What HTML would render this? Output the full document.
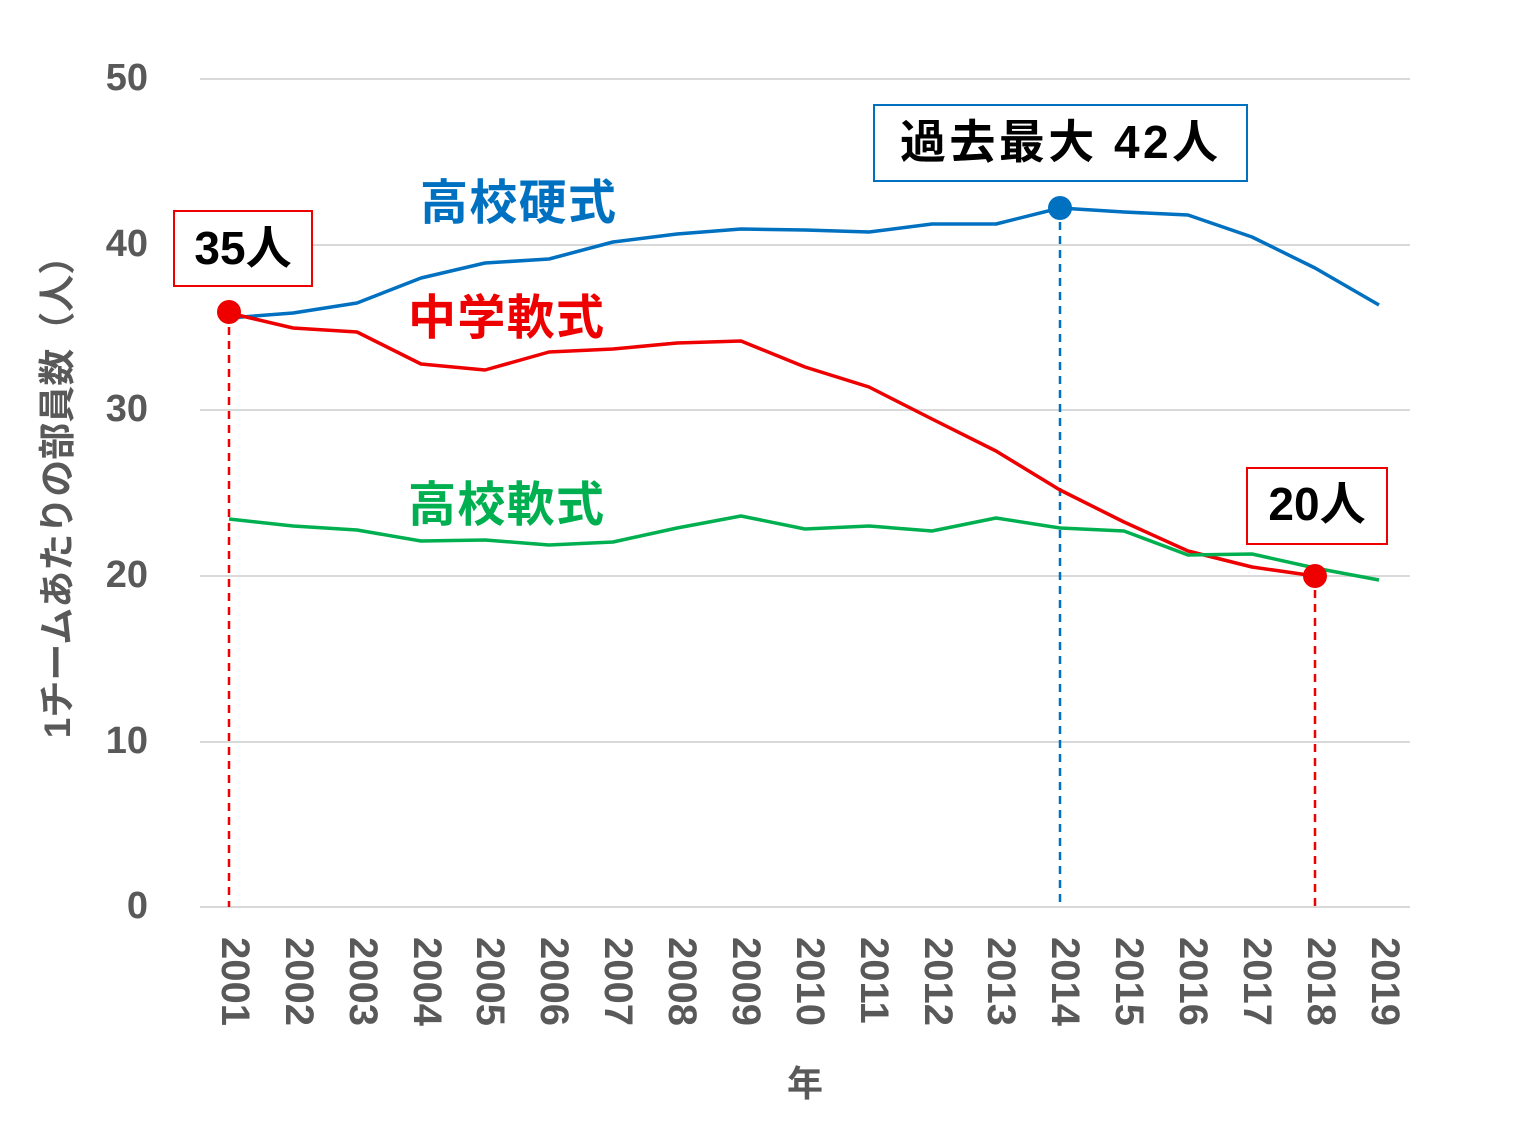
<!DOCTYPE html>
<html><head><meta charset="utf-8"><style>body{margin:0;background:#fff}svg{display:block}</style></head><body>
<svg width="1534" height="1125" xmlns="http://www.w3.org/2000/svg" font-family="'Liberation Sans','Noto Sans CJK JP',sans-serif">
<g stroke="#d9d9d9" stroke-width="2">
<line x1="200" x2="1410" y1="79" y2="79"/><line x1="200" x2="1410" y1="245" y2="245"/><line x1="200" x2="1410" y1="410" y2="410"/><line x1="200" x2="1410" y1="576" y2="576"/><line x1="200" x2="1410" y1="742" y2="742"/><line x1="200" x2="1410" y1="907" y2="907"/>
</g>
<g fill="#595959" font-size="38" font-weight="bold" text-anchor="end">
<text x="148" y="90">50</text><text x="148" y="256">40</text><text x="148" y="421">30</text><text x="148" y="587">20</text><text x="148" y="753">10</text><text x="148" y="918">0</text>
</g>
<text transform="translate(70,488) rotate(-90)" fill="#595959" font-size="37" font-weight="bold" text-anchor="middle">1チームあたりの部員数（人）</text>
<text x="805" y="1096" fill="#595959" font-size="36" font-weight="bold" text-anchor="middle">年</text>
<g fill="#595959" font-size="40" font-weight="bold">
<text transform="translate(222,937) rotate(90)">2001</text><text transform="translate(286,937) rotate(90)">2002</text><text transform="translate(350,937) rotate(90)">2003</text><text transform="translate(414,937) rotate(90)">2004</text><text transform="translate(477,937) rotate(90)">2005</text><text transform="translate(541,937) rotate(90)">2006</text><text transform="translate(605,937) rotate(90)">2007</text><text transform="translate(669,937) rotate(90)">2008</text><text transform="translate(733,937) rotate(90)">2009</text><text transform="translate(797,937) rotate(90)">2010</text><text transform="translate(861,937) rotate(90)">2011</text><text transform="translate(925,937) rotate(90)">2012</text><text transform="translate(988,937) rotate(90)">2013</text><text transform="translate(1052,937) rotate(90)">2014</text><text transform="translate(1116,937) rotate(90)">2015</text><text transform="translate(1180,937) rotate(90)">2016</text><text transform="translate(1244,937) rotate(90)">2017</text><text transform="translate(1308,937) rotate(90)">2018</text><text transform="translate(1372,937) rotate(90)">2019</text>
</g>
<g stroke-width="2.5" stroke-dasharray="8,6" fill="none">
<line x1="229" x2="229" y1="313" y2="907" stroke="#e00"/>
<line x1="1060" x2="1060" y1="208" y2="907" stroke="#0070c0"/>
<line x1="1315" x2="1315" y1="576" y2="907" stroke="#e00"/>
</g>
<g fill="none" stroke-width="3.5" stroke-linejoin="round">
<polyline stroke="#0070c0" points="229,318 293,313 357,303 421,278 485,263 549,259 613,242 677,234 741,229 805,230 869,232 932,224 996,224 1060,208 1124,212 1188,215 1252,237 1315,268 1379,305"/>
<polyline stroke="#e00" points="229,313 293,328 357,332 421,364 485,370 549,352 613,349 677,343 741,341 805,367 869,387 932,419 996,451 1060,490 1124,522 1188,551 1252,567 1315,576"/>
<polyline stroke="#00b050" points="229,519 293,526 357,530 421,541 485,540 549,545 613,542 677,528 741,516 805,529 869,526 932,531 996,518 1060,528 1124,531 1188,555 1252,554 1315,568 1379,580"/>
</g>
<circle cx="229" cy="312" r="12" fill="#e00"/>
<circle cx="1060" cy="208" r="12" fill="#0070c0"/>
<circle cx="1315" cy="576" r="12" fill="#e00"/>
<g font-size="48" font-weight="bold">
<text x="420" y="219" fill="#0070c0" textLength="196">高校硬式</text>
<text x="408" y="334" fill="#e00" textLength="196">中学軟式</text>
<text x="408" y="521" fill="#00b050" textLength="196">高校軟式</text>
</g>
<rect x="174" y="211" width="138" height="75" fill="#fff" stroke="#e00" stroke-width="2"/>
<text x="243" y="264" font-size="46" font-weight="bold" text-anchor="middle">35人</text>
<rect x="874" y="105" width="373" height="76" fill="#fff" stroke="#0070c0" stroke-width="2"/>
<text x="900" y="158" font-size="46" font-weight="bold" textLength="318">過去最大 42人</text>
<rect x="1247" y="468" width="140" height="76" fill="#fff" stroke="#e00" stroke-width="2"/>
<text x="1317" y="520" font-size="46" font-weight="bold" text-anchor="middle">20人</text>
</svg>
</body></html>
